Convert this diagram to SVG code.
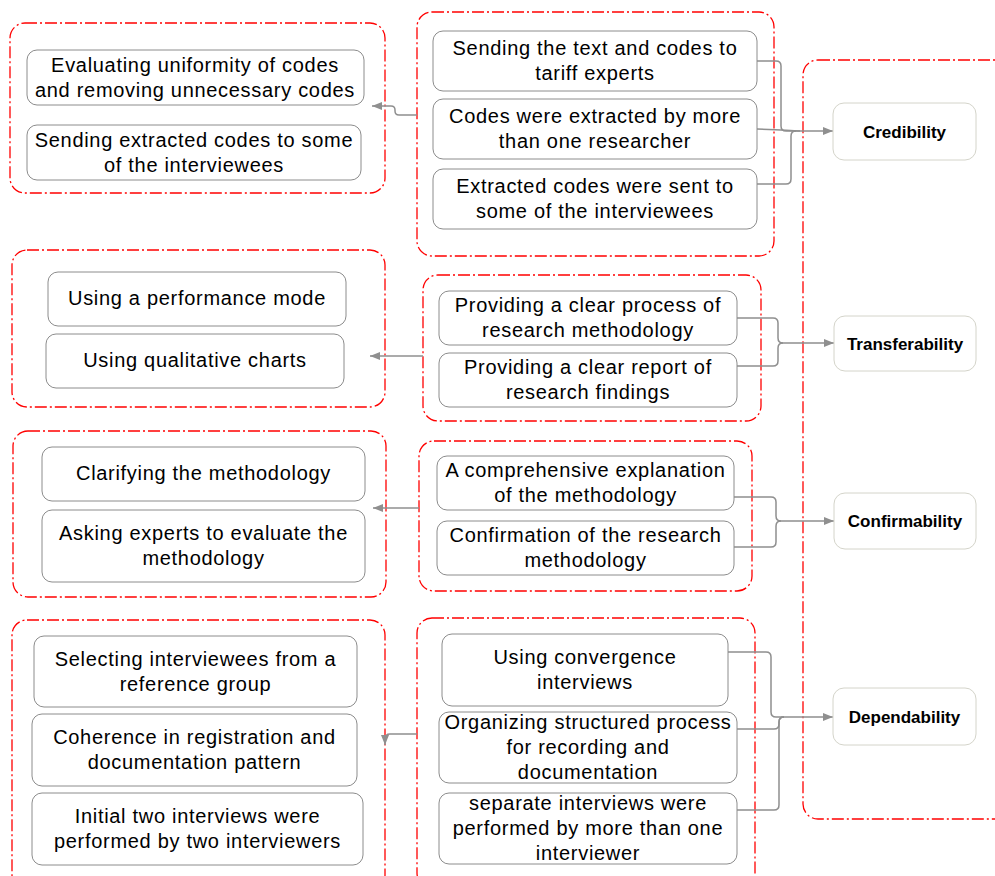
<svg xmlns="http://www.w3.org/2000/svg" width="995" height="876" viewBox="0 0 995 876">
<style>
.grp{fill:none;stroke:#ff0000;stroke-width:1.3;stroke-dasharray:12 3 2 3}
.nd rect{fill:#ffffff;stroke:#8c8c8c;stroke-width:1}
.nd text{font-family:"Liberation Sans",Arial,sans-serif;font-size:20px;letter-spacing:0.7px;fill:#000;text-anchor:middle}
.lb rect{fill:#ffffff;stroke:#d4d4ca;stroke-width:1}
.lb text{font-family:"Liberation Sans",Arial,sans-serif;font-size:17px;font-weight:bold;fill:#000;text-anchor:middle}
.cn path{fill:none;stroke:#8f8f8f;stroke-width:1.5}
</style>
<defs>
<marker id="ah" viewBox="0 0 10 8" refX="10" refY="4" markerWidth="10" markerHeight="8" markerUnits="userSpaceOnUse" orient="auto">
<path d="M0,0 L10,4 L0,8 z" fill="#8f8f8f"/>
</marker>
</defs>

<g id="containers">
<rect class="grp" x="10" y="23" width="375" height="170" rx="15"/>
<rect class="grp" x="417" y="12" width="357" height="244" rx="15"/>
<rect class="grp" x="803" y="60" width="215" height="759" rx="15"/>
<rect class="grp" x="12" y="250" width="373" height="157" rx="15"/>
<rect class="grp" x="423" y="275" width="338" height="146" rx="15"/>
<rect class="grp" x="13" y="431" width="373" height="166" rx="15"/>
<rect class="grp" x="419" y="441" width="333" height="150" rx="15"/>
<rect class="grp" x="12" y="620" width="373" height="270" rx="15"/>
<rect class="grp" x="417" y="618" width="338" height="270" rx="15"/>
</g>

<g id="connectors" class="cn">
<path d="M417,115 H399 Q395,115 395,111 V110 Q395,106 391,106 H372" marker-end="url(#ah)"/>
<path d="M757,61 H776 Q781,61 781,66 V126 Q781,131 786,131 H833" marker-end="url(#ah)"/>
<path d="M757,129 Q790,130 800,131"/>
<path d="M757,184 H786 Q791,184 791,179 V136 Q791,131 796,131"/>
<path d="M423,356 H370" marker-end="url(#ah)"/>
<path d="M737,318 H773 Q778,318 778,323 V338 Q778,343 783,343 H834" marker-end="url(#ah)"/>
<path d="M737,366 H773 Q778,366 778,361 V348 Q778,343 783,343"/>
<path d="M419,508 H373" marker-end="url(#ah)"/>
<path d="M734,497 H771 Q776,497 776,502 V516 Q776,521 781,521 H834" marker-end="url(#ah)"/>
<path d="M734,547 H771 Q776,547 776,542 V526 Q776,521 781,521"/>
<path d="M417,734 H390 Q385,734 385,739 V745" marker-end="url(#ah)"/>
<path d="M728,652 H766 Q771,652 771,657 V712 Q771,717 776,717 H833" marker-end="url(#ah)"/>
<path d="M737,729 H774 Q779,729 779,724 V722 Q779,717 784,717"/>
<path d="M737,810 H774 Q779,810 779,805 V722 Q779,717 784,717"/>
</g>

<g id="n-a1" class="nd"><rect x="27" y="50" width="337" height="55" rx="10"/><text x="195" y="71.5">Evaluating uniformity of codes</text><text x="195" y="96.5">and removing unnecessary codes</text></g>
<g id="n-a2" class="nd"><rect x="27" y="125" width="334" height="55" rx="10"/><text x="194" y="146.5">Sending extracted codes to some</text><text x="194" y="171.5">of the interviewees</text></g>

<g id="n-b1" class="nd"><rect x="433" y="31" width="324" height="60" rx="10"/><text x="595" y="55">Sending the text and codes to</text><text x="595" y="80">tariff experts</text></g>
<g id="n-b2" class="nd"><rect x="433" y="99" width="324" height="60" rx="10"/><text x="595" y="123">Codes were extracted by more</text><text x="595" y="148">than one researcher</text></g>
<g id="n-b3" class="nd"><rect x="433" y="169" width="324" height="60" rx="10"/><text x="595" y="193">Extracted codes were sent to</text><text x="595" y="218">some of the interviewees</text></g>

<g id="n-credibility" class="lb"><rect x="833" y="103" width="143" height="57" rx="11"/><text x="904.5" y="137.5">Credibility</text></g>

<g id="n-c1" class="nd"><rect x="48" y="272" width="298" height="54" rx="10"/><text x="197" y="305">Using a performance mode</text></g>
<g id="n-c2" class="nd"><rect x="46" y="334" width="298" height="54" rx="10"/><text x="195" y="367">Using qualitative charts</text></g>

<g id="n-d1" class="nd"><rect x="439" y="291" width="298" height="54" rx="10"/><text x="588" y="312">Providing a clear process of</text><text x="588" y="337">research methodology</text></g>
<g id="n-d2" class="nd"><rect x="439" y="353" width="298" height="54" rx="10"/><text x="588" y="374">Providing a clear report of</text><text x="588" y="399">research findings</text></g>

<g id="n-transferability" class="lb"><rect x="834" y="316" width="142" height="55" rx="11"/><text x="905" y="349.5">Transferability</text></g>

<g id="n-e1" class="nd"><rect x="42" y="447" width="323" height="54" rx="10"/><text x="203.5" y="480">Clarifying the methodology</text></g>
<g id="n-e2" class="nd"><rect x="42" y="510" width="323" height="72" rx="10"/><text x="203.5" y="540">Asking experts to evaluate the</text><text x="203.5" y="565">methodology</text></g>

<g id="n-f1" class="nd"><rect x="437" y="456" width="297" height="54" rx="10"/><text x="585.5" y="477">A comprehensive explanation</text><text x="585.5" y="502">of the methodology</text></g>
<g id="n-f2" class="nd"><rect x="437" y="521" width="297" height="54" rx="10"/><text x="585.5" y="542">Confirmation of the research</text><text x="585.5" y="567">methodology</text></g>

<g id="n-confirmability" class="lb"><rect x="834" y="493" width="142" height="56" rx="11"/><text x="905" y="527">Confirmability</text></g>

<g id="n-g1" class="nd"><rect x="34" y="636" width="323" height="71" rx="10"/><text x="195.5" y="666">Selecting interviewees from a</text><text x="195.5" y="691">reference group</text></g>
<g id="n-g2" class="nd"><rect x="32" y="714" width="325" height="72" rx="10"/><text x="194.5" y="744">Coherence in registration and</text><text x="194.5" y="769">documentation pattern</text></g>
<g id="n-g3" class="nd"><rect x="32" y="793" width="331" height="72" rx="10"/><text x="197.5" y="823">Initial two interviews were</text><text x="197.5" y="848">performed by two interviewers</text></g>

<g id="n-h1" class="nd"><rect x="442" y="634" width="286" height="72" rx="10"/><text x="585" y="664">Using convergence</text><text x="585" y="689">interviews</text></g>
<g id="n-h2" class="nd"><rect x="439" y="712" width="298" height="71" rx="10"/><text x="588" y="728.5">Organizing structured process</text><text x="588" y="753.5">for recording and</text><text x="588" y="778.5">documentation</text></g>
<g id="n-h3" class="nd"><rect x="439" y="793" width="298" height="71" rx="10"/><text x="588" y="809.5">separate interviews were</text><text x="588" y="834.5">performed by more than one</text><text x="588" y="859.5">interviewer</text></g>

<g id="n-dependability" class="lb"><rect x="833" y="688" width="143" height="57" rx="11"/><text x="904.5" y="722.5">Dependability</text></g>
</svg>
